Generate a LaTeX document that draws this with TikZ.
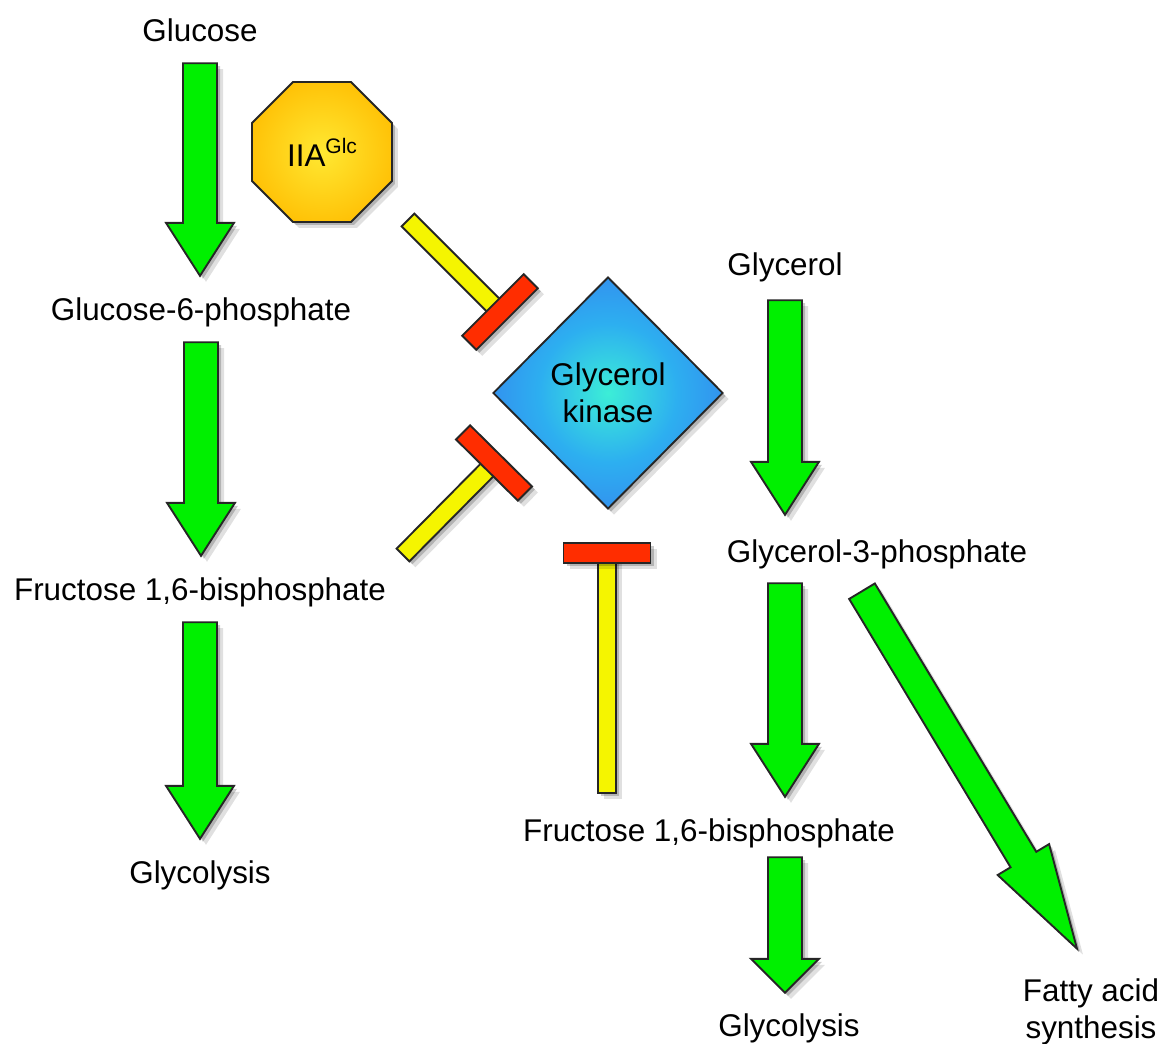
\documentclass[tikz,border=0pt]{standalone}
\usepackage{fontspec}
\setmainfont{Liberation Sans}
\usepackage{tikz}
\usetikzlibrary{calc,shapes.geometric,shadows}
\definecolor{flowgreen}{RGB}{0,240,0}
\definecolor{stemyellow}{RGB}{245,245,0}
\definecolor{capred}{RGB}{255,45,0}
\definecolor{iiainner}{RGB}{255,232,50}
\definecolor{iiamid}{RGB}{255,188,0}
\definecolor{iiaouter}{RGB}{255,168,0}
\definecolor{gkinner}{RGB}{60,238,215}
\definecolor{gkmid}{RGB}{45,175,240}
\definecolor{gkrim}{RGB}{55,120,238}
\definecolor{gkouter}{RGB}{50,75,232}
\pgfdeclareradialshading{iiaglow}{\pgfpoint{0bp}{0bp}}{color(0bp)=(iiainner); color(30bp)=(iiamid); color(50bp)=(iiaouter)}
\pgfdeclareradialshading{gkglow}{\pgfpoint{0bp}{0bp}}{color(0bp)=(gkinner); color(15bp)=(gkmid); color(35bp)=(gkrim); color(50bp)=(gkouter)}

% block arrow: start, tip, shaft half width, head half width, head length
\newcommand{\fatarrow}[5]{%
  \path[flow] let \p1=#1, \p2=#2, \n1={atan2(\y2-\y1,\x2-\x1)} in
    ($(\p1)+({\n1+90}:#3)$) -- ($(\p2)+({\n1+180}:#5)+({\n1+90}:#3)$)
    -- ($(\p2)+({\n1+180}:#5)+({\n1+90}:#4)$) -- (\p2)
    -- ($(\p2)+({\n1+180}:#5)+({\n1-90}:#4)$)
    -- ($(\p2)+({\n1+180}:#5)+({\n1-90}:#3)$)
    -- ($(\p1)+({\n1-90}:#3)$) -- cycle;}
% inhibition bar: start of stem, centre of the cap
\newcommand{\inhibit}[2]{%
  \path[stembar] let \p1=#1, \p2=#2, \n1={atan2(\y2-\y1,\x2-\x1)} in
    ($(\p1)+({\n1+90}:9pt)$) -- ($(\p2)+({\n1+90}:9pt)$)
    -- ($(\p2)+({\n1-90}:9pt)$) -- ($(\p1)+({\n1-90}:9pt)$) -- cycle;
  \path[capbar] let \p1=#1, \p2=#2, \n1={atan2(\y2-\y1,\x2-\x1)} in
    ($(\p2)+(\n1:10pt)+({\n1+90}:43.5pt)$) -- ($(\p2)+(\n1:10pt)+({\n1-90}:43.5pt)$)
    -- ($(\p2)+({\n1+180}:10pt)+({\n1-90}:43.5pt)$)
    -- ($(\p2)+({\n1+180}:10pt)+({\n1+90}:43.5pt)$) -- cycle;}

\begin{document}
\begin{tikzpicture}[x=1pt, y=-1pt,
    font=\fontsize{31.4}{37}\selectfont,
    softshadow/.style={drop shadow={shadow xshift=3pt, shadow yshift=-3pt, opacity=.2, fill=black},
                       drop shadow={shadow xshift=6pt, shadow yshift=-6pt, opacity=.12, fill=black}},
    lbl/.style={inner sep=0pt, anchor=base, text height=23pt, text depth=7pt},
    flow/.style={draw=black!85, line width=1.9pt, fill=flowgreen, softshadow},
    stembar/.style={draw=black!85, line width=1.9pt, fill=stemyellow, softshadow},
    capbar/.style={draw=black!85, line width=1.9pt, fill=capred, softshadow}]
    \useasboundingbox (0,0) rectangle (1163,1044);

    % Metabolite labels
    \node[lbl] (glc)  at (200,41)  {Glucose};
    \node[lbl] (g6p)  at (201,320) {Glucose-6-phosphate};
    \node[lbl] (fbp)  at (200,600) {Fructose 1,6-bisphosphate};
    \node[lbl] (glyA) at (200,883) {Glycolysis};
    \node[lbl] (glyc) at (785,275) {Glycerol};
    \node[lbl] (g3p)  at (877,562) {Glycerol-3-phosphate};
    \node[lbl] (fbp2) at (709,841) {Fructose 1,6-bisphosphate};
    \node[lbl] (glyB) at (789,1036) {Glycolysis};
    \node[inner sep=0pt, align=center] (fas) at (1091,1012) {Fatty acid\\synthesis};

    % Glucose pathway
    \foreach \src/\dst in {glc/g6p, g6p/fbp, fbp/glyA}
        \fatarrow{($(\src.south)+(0,15)$)}{($(\src.south |- \dst.north)+(0,-21)$)}{17pt}{34pt}{53pt};

    % Glycerol pathway
    \fatarrow{($(glyc.south)+(0,18)$)}{($(glyc.south |- g3p.north)+(0,-24)$)}{17pt}{34pt}{53pt}
    \fatarrow{($(glyc.south |- g3p.south)+(0,14)$)}{($(glyc.south |- fbp2.north)+(0,-21)$)}{17pt}{34pt}{53pt}
    \fatarrow{($(glyc.south |- fbp2.south)+(0,9)$)}{($(glyc.south |- glyB.north)+(0,-20)$)}{17pt}{34pt}{34pt}
    \fatarrow{($(g3p.south)+(-15,22)$)}{($(fas.north)+(-14,-30)$)}{15pt}{30pt}{104pt}

    % Inhibition of glycerol kinase
    \coordinate (t1s) at (408,220);
    \coordinate (t1e) at (500,312);
    \coordinate (t2s) at (403,555);
    \coordinate (t2e) at (494,463);
    \coordinate (t3s) at (607,793);
    \coordinate (t3e) at (607,553);
    \inhibit{(t1s)}{(t1e)}
    \inhibit{(t2s)}{(t2e)}
    \inhibit{(t3s)}{(t3e)}

    % Enzyme and regulator
    \node[regular polygon, regular polygon sides=8, minimum size=151.5pt, inner sep=0pt,
          draw=black!85, line width=1.9pt, shading=iiaglow, softshadow]
        (iia) at (322,152) {IIA\raisebox{13pt}{\fontsize{21}{21}\selectfont Glc}};
    \node[diamond, minimum width=230pt, minimum height=232pt, inner sep=0pt, align=center,
          draw=black!85, line width=1.9pt, shading=gkglow, softshadow]
        (gk) at (608,393) {Glycerol\\kinase};
\end{tikzpicture}
\end{document}
